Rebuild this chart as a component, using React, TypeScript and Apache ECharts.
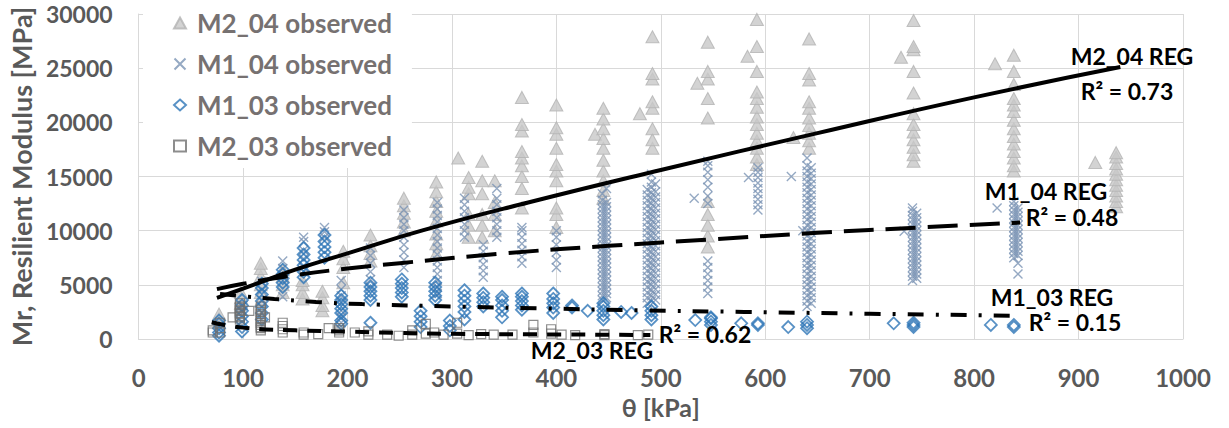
import React, { useEffect, useRef } from 'react';
import * as echarts from 'echarts';

type Col = [number, number[]];

// Observed resilient modulus, grouped by confining-stress level θ (x) -> Mr values (y)
const M2_04_OBS: Col[] = [
  [77, [1500, 1900, 2300]],
  [98, [3300, 3800, 4300]],
  [117, [3500, 4300, 5000, 5800, 6500, 7000]],
  [138, [4300, 5000, 5800, 6400]],
  [157, [3700, 4300, 5000, 5400]],
  [176, [2600, 3100, 3800, 4400]],
  [196, [5200, 6600, 7400, 8100]],
  [222, [7200, 7900, 8600, 9600]],
  [254, [10000, 10800, 11600, 12300, 13000]],
  [285, [7900, 8800, 9700, 10900, 11800, 12700, 13600, 14500]],
  [306, [16700]],
  [316, [9400, 10500, 11500, 13400, 14000, 14900]],
  [329, [9400, 10500, 11500, 13400, 14600, 16400]],
  [341, [10000, 11500, 12600, 14600]],
  [367, [12100, 13900, 15000, 16000, 16700, 17300, 19200, 19800, 22300]],
  [400, [10300, 11500, 12100, 14600, 15500, 16100, 17600, 18900, 19500, 21600]],
  [437, [18900]],
  [445, [13000, 13700, 14600, 15500, 16500, 17600, 18500, 19400, 20300, 21300]],
  [480, [20800]],
  [492, [17600, 18400, 19400, 21300, 21900, 24000, 24500, 27900]],
  [535, [23600]],
  [545, [8500, 9500, 10500, 11500, 12700, 20400, 22200, 24000, 24700, 27400]],
  [583, [26100]],
  [592, [16100, 16800, 17600, 18300, 19000, 19800, 20500, 21400, 22200, 22800, 24700, 27000, 29500]],
  [627, [18600]],
  [642, [17600, 18300, 19000, 19700, 20400, 21300, 21900, 23900, 24500, 27700]],
  [730, [26000]],
  [742, [16400, 17000, 17700, 18400, 19100, 19800, 20800, 22700, 24700, 26700, 27000, 29400]],
  [820, [25400]],
  [838, [15500, 16000, 16700, 17300, 18000, 18700, 19400, 20200, 21000, 21600, 22200, 23500, 24700, 26200]],
  [916, [16300]],
  [936, [12200, 12700, 13200, 13700, 14200, 14700, 15200, 15700, 16200, 16800, 17200]],
];

const M1_04_OBS: Col[] = [
  [100, [2500, 3100]],
  [118, [3600, 4500, 5300]],
  [138, [3900, 6500, 7200]],
  [158, [6600, 7400, 8200, 9000, 9400]],
  [178, [9400, 9900, 10300]],
  [194, [1500, 2000, 2600, 3300, 4000, 4600, 5400]],
  [222, [4800, 5500, 6200, 7000, 7700, 8400]],
  [254, [6600, 7300, 8000, 8700, 9400, 10000, 10600, 11200, 11900]],
  [286, [4200, 4800, 5400, 6000, 6600, 7200, 7800, 8400, 9000, 9600, 10200, 10800, 11400, 12000, 12600]],
  [312, [9400, 10000, 10600, 11200, 11800, 12400, 13000]],
  [330, [5700, 6300, 6900, 7500, 8100, 8700]],
  [343, [9400, 10000, 10600, 11200, 11800, 12400, 13000, 13900]],
  [367, [7000, 7600, 8200, 8800, 9400, 10000, 10300]],
  [400, [6600, 7300, 8000, 8700, 9400, 10000]],
  [444, [3600, 4000, 4400, 4800, 5200, 5600, 6000, 6400, 6800, 7200, 7600, 8000, 8400, 8800, 9200, 9600, 10000, 10400, 10800, 11200, 11600, 12000, 12400, 12800, 13400]],
  [448, [3800, 4200, 4600, 5000, 5400, 5800, 6200, 6600, 7000, 7400, 7800, 8200, 8600, 9000, 9400, 9800, 10200, 10600, 11000, 11400, 11800, 12200, 12600, 13900]],
  [487, [3300, 3800, 4300, 4800, 5300, 5800, 6300, 6800, 7300, 7800, 8300, 8800, 9300, 9800, 10300, 10800, 11300, 11800, 12300, 12800, 13300, 13800]],
  [491, [3500, 4000, 4500, 5000, 5500, 6000, 6500, 7000, 7500, 8000, 8500, 9000, 9500, 10000, 10500, 11000, 11500, 12000, 12500, 13000, 13500, 14000, 14500, 15200]],
  [495, [3600, 4100, 4600, 5100, 5600, 6100, 6600, 7100, 7600, 8100, 8600, 9100, 9600, 10100, 10600, 11100, 11600, 12100, 12600, 13100, 13600, 14300]],
  [532, [13000]],
  [545, [4200, 4800, 5400, 6000, 6600, 7200, 12500, 13200, 14000, 14700, 15400, 16000, 16400]],
  [584, [14900]],
  [593, [11900, 12400, 12900, 13400, 13900, 14400, 14900, 15400, 15800]],
  [625, [15000]],
  [636, [10000]],
  [640, [3000, 3500, 4000, 4500, 5000, 5500, 6000, 6500, 7000, 7500, 8000, 8500, 9000, 9500, 10000, 10500, 11000, 11500, 12000, 12500, 13000, 13500, 14000, 14500, 15000, 15500, 16000, 16700]],
  [644, [3300, 3800, 4300, 4800, 5300, 5800, 6300, 6800, 7300, 7800, 8300, 8800, 9300, 9800, 10300, 10800, 11300, 11800, 12300, 12800, 13300, 13800, 14300, 14800, 15300, 15800]],
  [733, [9950]],
  [741, [5400, 5800, 6200, 6600, 7000, 7400, 7800, 8200, 8600, 9000, 9400, 9800, 10200, 10600, 11000, 11400, 11800, 12100]],
  [745, [5600, 6000, 6400, 6800, 7200, 7600, 8000, 8400, 8800, 9200, 9600, 10000, 10400, 10800, 11200, 11600]],
  [822, [12100]],
  [838, [7500, 7900, 8300, 8700, 9100, 9500, 9900, 10300, 10700, 11100, 11500, 11900, 12300, 12700]],
  [842, [6000, 7000, 7700, 8100, 8500, 8900, 9300, 9700, 10100, 10500, 10900, 11300, 11700, 12100]],
];

const M1_03_OBS: Col[] = [
  [77, [300, 600, 1000, 1400, 1700]],
  [99, [700, 1100, 1600, 2100, 2600, 3100, 3600]],
  [118, [1800, 2400, 3000, 3500, 4100, 4700, 5100]],
  [138, [4800, 5200, 5600, 6000, 6400]],
  [158, [5700, 6200, 6800, 7300, 7800, 8400]],
  [178, [7500, 8000, 8500, 9000, 9600]],
  [194, [1400, 1700, 2400, 2800, 3200, 3600, 4000]],
  [222, [1500, 3600, 4000, 4400, 4800, 5200]],
  [252, [3900, 4300, 4700, 5100, 5500]],
  [270, [1100, 1600, 2100, 2600]],
  [284, [3600, 4000, 4400, 4800, 5200]],
  [298, [800, 1200, 1700]],
  [312, [1800, 2500, 3000, 3500, 4000, 4500]],
  [330, [3000, 3400, 3800, 4200]],
  [348, [2000, 2600, 3100, 3600, 3900]],
  [367, [2700, 3100, 3500, 3900, 4200]],
  [397, [2400, 2900, 3300, 3700, 4200]],
  [415, [2900, 3100]],
  [430, [2600]],
  [445, [1800, 2200, 2600, 3000, 3300]],
  [462, [2500]],
  [472, [2400]],
  [491, [1800, 2200, 2600, 3000]],
  [533, [1750]],
  [548, [1300, 1600, 1900, 2000]],
  [577, [1450]],
  [593, [1300, 1450]],
  [622, [1100]],
  [640, [1000, 1300, 1600]],
  [723, [1450]],
  [742, [1100, 1300, 1500]],
  [816, [1300]],
  [838, [1100, 1300]],
];

const M2_03_OBS: Col[] = [
  [71, [600, 800]],
  [78, [600, 1000, 1500]],
  [90, [2000]],
  [97, [1800, 2000, 2100, 2300, 2400, 2600, 2700, 2900, 3000, 3300]],
  [106, [2600]],
  [117, [800, 1000, 1100, 1300, 1500, 1700, 1900, 2100, 2300, 2500, 2700, 3000]],
  [121, [2000]],
  [138, [600, 900, 1200, 1500]],
  [158, [400, 600]],
  [172, [450]],
  [182, [1000]],
  [192, [600, 800, 1000]],
  [207, [600]],
  [220, [400, 700]],
  [238, [400]],
  [249, [300]],
  [262, [400, 800]],
  [275, [500, 1400]],
  [283, [600]],
  [292, [400]],
  [305, [500, 1500]],
  [316, [350]],
  [328, [450]],
  [340, [400]],
  [358, [400]],
  [378, [600, 1300]],
  [395, [500, 900]],
  [405, [400]],
  [418, [350]],
  [446, [350, 450]],
  [478, [350]],
  [488, [400]],
];

// Fitted regression curves (θ, Mr)
const M2_04_REG: [number, number][] = [
  [75, 3800], [100, 4650], [150, 6400], [200, 7900], [271, 10000], [373, 12600],
  [500, 15600], [650, 19000], [800, 22300], [940, 25100],
];
const M1_04_REG: [number, number][] = [
  [75, 4600], [100, 5100], [150, 5900], [200, 6500], [250, 7000], [350, 7900],
  [450, 8600], [550, 9200], [650, 9800], [750, 10300], [844, 10750],
];
const M1_03_REG: [number, number][] = [
  [78, 4150], [100, 3950], [130, 3700], [170, 3420], [214, 3220], [300, 3000],
  [385, 2830], [480, 2650], [580, 2500], [700, 2330], [840, 2150],
];
const M2_03_REG: [number, number][] = [
  [70, 1550], [100, 1050], [150, 800], [200, 680], [250, 560], [300, 480], [400, 420], [490, 370],
];

const X_RANGE = { min: 0, max: 1000, interval: 100 };
const Y_RANGE = { min: 0, max: 30000, interval: 5000 };

const points = (cols: Col[]) => cols.flatMap(([x, ys]) => ys.map((y) => [x, y]));

const FONT = 'Lato, "Open Sans", sans-serif';
const GRID_COLOR = '#d9d9d9';
const AXIS_TEXT = '#595959';

const regLine = (name: string, data: [number, number][], dash: number[] | 'solid') => ({
  name,
  type: 'line',
  data,
  smooth: true,
  showSymbol: false,
  symbol: 'none',
  z: 5,
  lineStyle: { color: '#000', width: 4, type: dash },
});

const label = (text: string, x: number, y: number) => ({
  type: 'text',
  x,
  y,
  z: 100,
  style: {
    text,
    fill: '#000',
    font: `bold 23px ${FONT}`,
    align: 'center',
    verticalAlign: 'middle',
    textAlign: 'center',
    textVerticalAlign: 'middle',
  },
});

export default function App() {
  const ref = useRef<HTMLDivElement>(null);

  useEffect(() => {
    if (!ref.current) return;
    const chart = echarts.init(ref.current, undefined, { renderer: 'svg' });
    const axisText = { color: AXIS_TEXT, fontSize: 24, fontWeight: 'bold', fontFamily: FONT };
    const plain = (v: number) => String(v);
    chart.setOption({
      animation: false,
      backgroundColor: '#fff',
      grid: { left: 136, right: 46, top: 14, bottom: 89 },
      xAxis: {
        type: 'value',
        ...X_RANGE,
        name: 'θ [kPa]',
        nameLocation: 'middle',
        nameGap: 55,
        nameTextStyle: { ...axisText, fontSize: 25 },
        axisLine: { show: true, lineStyle: { color: GRID_COLOR } },
        axisTick: { show: false },
        axisLabel: { ...axisText, margin: 26, formatter: plain },
        splitLine: { show: true, lineStyle: { color: GRID_COLOR } },
      },
      yAxis: {
        type: 'value',
        ...Y_RANGE,
        name: 'Mr, Resilient Modulus [MPa]',
        nameLocation: 'middle',
        nameGap: 100,
        nameTextStyle: { ...axisText, fontSize: 27 },
        axisLine: { show: true, lineStyle: { color: GRID_COLOR } },
        axisTick: { show: false },
        axisLabel: { ...axisText, fontSize: 23, margin: 26, padding: [4, 0, 0, 0], formatter: plain },
        splitLine: { show: true, lineStyle: { color: GRID_COLOR } },
      },
      legend: {
        data: ['M2_04 observed', 'M1_04 observed', 'M1_03 observed', 'M2_03 observed'],
        orient: 'vertical',
        left: 143,
        top: 0,
        backgroundColor: '#fff',
        padding: [8, 20, 7, 30],
        itemWidth: 12,
        itemHeight: 11,
        itemGap: 11,
        textStyle: {
          color: '#767171',
          fontSize: 26,
          fontWeight: 'bold',
          fontFamily: FONT,
          lineHeight: 30,
          padding: [0, 0, 0, 6],
        },
      },
      series: [
        {
          name: 'M2_04 observed',
          type: 'scatter',
          symbol: 'triangle',
          symbolSize: [13, 12],
          data: points(M2_04_OBS),
          itemStyle: { color: '#c8c8c8', borderColor: '#b3b3b3', borderWidth: 1 },
        },
        {
          name: 'M1_04 observed',
          type: 'scatter',
          symbol: 'path://M0 0L10 10M10 0L0 10',
          symbolSize: 9,
          data: points(M1_04_OBS),
          itemStyle: { color: 'rgba(0,0,0,0)', borderColor: '#7b94b4', borderWidth: 1.4 },
        },
        {
          name: 'M1_03 observed',
          type: 'scatter',
          symbol: 'diamond',
          symbolSize: 12,
          data: points(M1_03_OBS),
          itemStyle: { color: 'rgba(0,0,0,0)', borderColor: '#2e75b6', borderWidth: 1.8 },
        },
        {
          name: 'M2_03 observed',
          type: 'scatter',
          symbol: 'rect',
          symbolSize: 9,
          data: points(M2_03_OBS),
          itemStyle: { color: 'rgba(0,0,0,0)', borderColor: '#707070', borderWidth: 1.2 },
        },
        regLine('M2_04 REG', M2_04_REG, 'solid'),
        regLine('M1_04 REG', M1_04_REG, [30, 12]),
        regLine('M1_03 REG', M1_03_REG, [16, 12, 3, 12]),
        regLine('M2_03 REG', M2_03_REG, [14, 10]),
      ],
      graphic: [
        label('M2_04 REG', 1132, 56),
        label('R² = 0.73', 1127, 91),
        label('M1_04 REG', 1046, 191),
        label('R² = 0.48', 1072, 217),
        label('M1_03 REG', 1052, 297),
        label('R² = 0.15', 1075, 322),
        label('M2_03 REG', 592, 350),
        label('R² = 0.62', 705, 334),
      ],
    });
    return () => chart.dispose();
  }, []);

  return (
    <div
      ref={ref}
      style={{ position: 'absolute', left: 0, top: 0, width: 1229, height: 428 }}
    />
  );
}
